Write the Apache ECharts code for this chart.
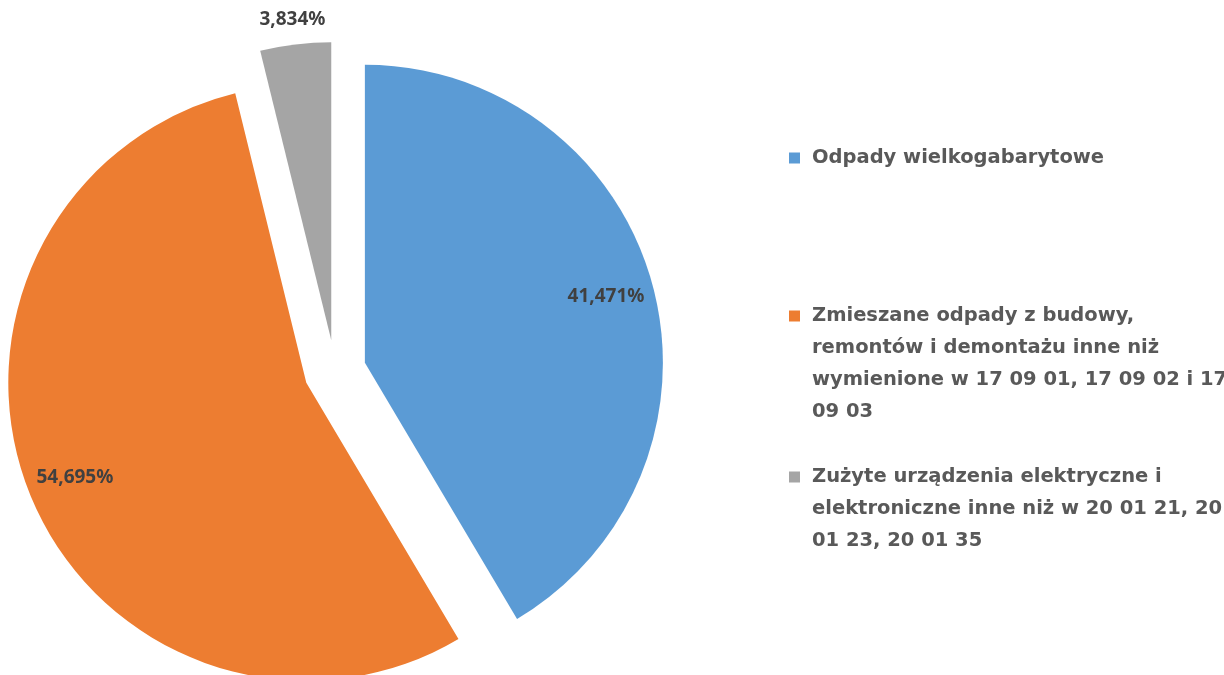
<!DOCTYPE html>
<html>
<head>
<meta charset="utf-8">
<script src="https://cdn.jsdelivr.net/npm/echarts@6/dist/echarts.min.js"></script>
<style>
  html, body { margin: 0; padding: 0; background: #fff; }
  #chart { width: 1224px; height: 675px; }
</style>
</head>
<body>
<div id="chart"></div>
<script>
// categories and their shares (%)
const names = [
  "Odpady wielkogabarytowe",
  "Zmieszane odpady z budowy, remontów i demontażu inne niż wymienione w 17 09 01, 17 09 02 i 17 09 03",
  "Zużyte urządzenia elektryczne i elektroniczne inne niż w 20 01 21, 20 01 23, 20 01 35"
];
const values = [41.471, 54.695, 3.834];
// legend text as it wraps in the picture
const legendLines = [
  ["Odpady wielkogabarytowe"],
  ["Zmieszane odpady z budowy,", "remontów i demontażu inne niż", "wymienione w 17 09 01, 17 09 02 i 17", "09 03"],
  ["Zużyte urządzenia elektryczne i", "elektroniczne inne niż w 20 01 21, 20", "01 23, 20 01 35"]
];
const colors = ["#5B9BD5", "#ED7D31", "#A5A5A5"];

const center = [335, 371];
const R = 298;
const OFFSET = 31;
const LH = 32;

const fmtPct = v => v.toFixed(3).replace(".", ",") + "%";

function pieData(showLabel) {
  return names.map((n, i) => ({
    name: n,
    value: values[i],
    selected: true,
    label: { show: showLabel(i) }
  }));
}

const base = {
  type: "pie",
  center: center,
  startAngle: 90,
  clockwise: true,
  selectedMode: "multiple",
  selectedOffset: OFFSET,
  animation: false,
  labelLine: { show: false },
  emphasis: { disabled: true },
  select: { disabled: false }
};

const labelStyle = {
  position: "inside",
  formatter: p => fmtPct(p.value),
  color: "#404040",
  fontFamily: "Noto Sans",
  fontWeight: "bold",
  fontSize: 19
};

// legends: one per item so each keeps its own spacing.
// The square is drawn in the text so it sits on the first line, like Excel does.
const legendCenters = [158, 316, 477];
const legends = names.map((n, i) => ({
  orient: "vertical",
  left: 784,
  top: legendCenters[i] - LH / 2,
  padding: 0,
  itemWidth: 0,
  itemHeight: 0,
  icon: "rect",
  itemStyle: { opacity: 0 },
  selectedMode: false,
  formatter: name => legendLines[names.indexOf(name)]
    .map((line, j) => (j === 0 ? "{sq|}{gap|}" : "{ind|}") + "{t|" + line + "}")
    .join("\n"),
  textStyle: {
    color: "#595959",
    fontFamily: "DejaVu Sans",
    fontWeight: "bold",
    fontSize: 19.5,
    lineHeight: LH,
    rich: {
      sq: { width: 11, height: 11, backgroundColor: colors[i], lineHeight: LH },
      gap: { width: 12, lineHeight: LH },
      ind: { width: 23, lineHeight: LH },
      t: {
        color: "#595959",
        fontFamily: "DejaVu Sans",
        fontWeight: "bold",
        fontSize: 19.5,
        lineHeight: LH
      }
    }
  },
  data: [n]
}));

const chart = echarts.init(document.getElementById("chart"));
chart.setOption({
  backgroundColor: "#ffffff",
  color: colors,
  legend: legends,
  series: [
    Object.assign({}, base, {
      name: "main",
      radius: [0, R],
      label: { show: false },
      data: pieData(() => false)
    }),
    // transparent ring carrying the inside labels
    Object.assign({}, base, {
      name: "labelsIn",
      radius: [196, R],
      silent: true,
      itemStyle: { color: "rgba(0,0,0,0)" },
      label: labelStyle,
      data: pieData(i => values[i] > 10)
    }),
    // transparent ring outside the pie carrying the small slice's label
    Object.assign({}, base, {
      name: "labelsOut",
      radius: [R + 2, R + 42],
      silent: true,
      itemStyle: { color: "rgba(0,0,0,0)" },
      label: labelStyle,
      data: pieData(i => values[i] <= 10)
    })
  ]
});
</script>
</body>
</html>
